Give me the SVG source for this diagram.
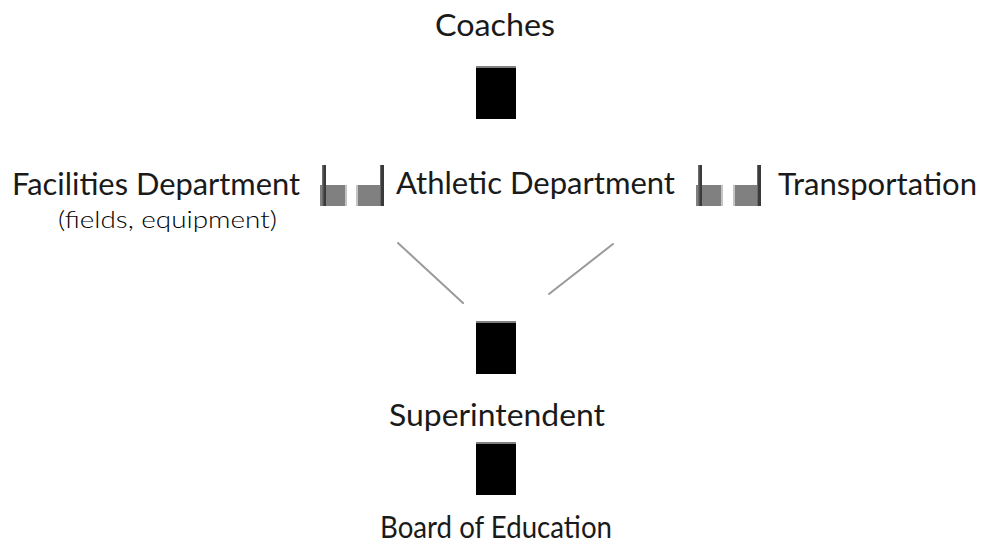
<svg xmlns="http://www.w3.org/2000/svg" xmlns:xlink="http://www.w3.org/1999/xlink" width="984" height="544" viewBox="0 0 984 544">
  <style>
    .lbl { font-family: Lato, "Liberation Sans", "DejaVu Sans", sans-serif; font-weight: 400; font-size: 31px; fill: #1a1a1a; text-anchor: middle; }
    .sub { font-size: 23px; font-weight: 300; fill: #000; }
    .blk { fill: #000; }
    .blk-top { fill: #808080; }
    .diag { stroke: #9a9a9a; stroke-width: 2; stroke-linecap: round; fill: none; }
    .box { fill: #808080; }
    .bar { fill: #3a3a3a; }
    .bar-edge { fill: #6a6a6a; }
    .edge { fill: #c4c4c4; }
  </style>
  <defs>
    <!-- tall block with grey top rule -->
    <g id="block">
      <rect class="blk" x="0" y="0" width="40" height="53"/>
      <rect class="blk-top" x="0" y="0" width="40" height="2"/>
    </g>
    <!-- small link mark, stem on the left -->
    <g id="mark-l">
      <rect class="box" x="0" y="20" width="27" height="21"/>
      <rect class="edge" x="25" y="20" width="2" height="21"/>
      <rect class="bar-edge" x="2" y="0" width="2" height="41"/>
      <rect class="bar" x="3.5" y="0" width="2.5" height="41"/>
    </g>
    <!-- small link mark, stem on the right -->
    <g id="mark-r">
      <rect class="box" x="0" y="20" width="28" height="21"/>
      <rect class="edge" x="0" y="20" width="2" height="21"/>
      <rect class="bar-edge" x="24" y="0" width="2" height="41"/>
      <rect class="bar" x="25" y="0" width="3" height="41"/>
    </g>
  </defs>

  <rect width="984" height="544" fill="#fff"/>

  <g id="connectors">
    <use xlink:href="#block" x="476" y="66"/>
    <use xlink:href="#block" x="476" y="321"/>
    <use xlink:href="#block" x="476" y="442"/>
    <use xlink:href="#mark-l" x="320" y="165"/>
    <use xlink:href="#mark-r" x="356" y="165"/>
    <use xlink:href="#mark-l" x="696" y="165"/>
    <use xlink:href="#mark-r" x="733" y="165"/>
    <line class="diag" x1="398" y1="243" x2="463" y2="303"/>
    <line class="diag" x1="613" y1="244" x2="549" y2="294"/>
  </g>

  <g id="coaches">
    <text class="lbl" x="495" y="36" textLength="120" lengthAdjust="spacingAndGlyphs">Coaches</text>
  </g>
  <g id="facilities">
    <text class="lbl" x="156" y="195" textLength="288" lengthAdjust="spacingAndGlyphs">Facilities Department</text>
    <text class="lbl sub" x="167.5" y="228" textLength="219" lengthAdjust="spacingAndGlyphs">(fields, equipment)</text>
  </g>
  <g id="athletic">
    <text class="lbl" x="535.5" y="194" textLength="279" lengthAdjust="spacingAndGlyphs">Athletic Department</text>
  </g>
  <g id="transportation">
    <text class="lbl" x="877.5" y="195" textLength="199" lengthAdjust="spacingAndGlyphs">Transportation</text>
  </g>
  <g id="superintendent">
    <text class="lbl" x="497" y="426" textLength="216" lengthAdjust="spacingAndGlyphs">Superintendent</text>
  </g>
  <g id="board">
    <text class="lbl" x="496" y="538" textLength="232" lengthAdjust="spacingAndGlyphs">Board of Education</text>
  </g>
</svg>
